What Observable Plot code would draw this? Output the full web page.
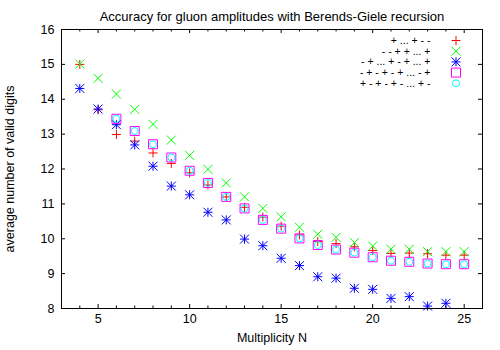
<!DOCTYPE html>
<html>
<head>
<meta charset="utf-8">
<script src="https://cdn.jsdelivr.net/npm/d3@7"></script>
<script src="https://cdn.jsdelivr.net/npm/@observablehq/plot@0.6"></script>
<style>
  html, body { margin: 0; padding: 0; background: #fff; }
  svg { display: block; }
</style>
</head>
<body>
<div id="chart"></div>
<script>
// ---- data ----
const title = "Accuracy for gluon amplitudes with Berends-Giele recursion";
const xLabel = "Multiplicity N";
const yLabel = "average number of valid digits";

const seriesLabels = [
  "+ ... + - -",
  "- - + + ... +",
  "- + ... + - + ... +",
  "- + - + - + ... - +",
  "+ - + - + - ... + -"
];
const seriesColors = ["#ff0000", "#00ff00", "#0000ff", "#ff00ff", "#00ffff"];

const nAll = [4,5,6,7,8,9,10,11,12,13,14,15,16,17,18,19,20,21,22,23,24,25];
const redVals   = [15.0,13.7,12.99,12.8,12.46,12.16,11.89,11.54,11.2,10.9,10.62,10.36,10.11,9.92,9.86,9.77,9.66,9.58,9.59,9.57,9.53,9.53];
const greenVals = [15.01,14.6,14.15,13.71,13.28,12.83,12.39,11.99,11.6,11.2,10.87,10.63,10.33,10.13,10.04,9.89,9.79,9.7,9.7,9.63,9.63,9.63];
const nBlue = [4,5,6,7,8,9,10,11,12,13,14,15,16,17,18,19,20,21,22,23,24];
const blueVals  = [14.31,13.72,13.27,12.69,12.08,11.51,11.26,10.76,10.54,9.99,9.8,9.44,9.23,8.91,8.87,8.58,8.55,8.29,8.34,8.07,8.15];
const nAlt = [6,7,8,9,10,11,12,13,14,15,16,17,18,19,20,21,22,23,24,25];
const magentaVals = [13.44,13.09,12.71,12.33,11.95,11.6,11.2,10.87,10.54,10.29,10.01,9.82,9.69,9.6,9.47,9.37,9.34,9.29,9.27,9.27];
const cyanVals    = [13.44,13.09,12.71,12.33,11.95,11.6,11.2,10.87,10.54,10.29,10.01,9.82,9.69,9.6,9.47,9.37,9.34,9.29,9.27,9.27];

const xMajorTicks = [5,10,15,20,25];
const xMinorTicks = [4,6,7,8,9,11,12,13,14,16,17,18,19,21,22,23,24,26];
const yTicks = [8,9,10,11,12,13,14,15,16];

// ---- gnuplot-like point symbols ----
const half = (size) => Math.sqrt(size / Math.PI);
const symPlus = { draw(c, s) { const r = half(s); c.moveTo(-r,0); c.lineTo(r,0); c.moveTo(0,-r); c.lineTo(0,r); } };
const symTimes = { draw(c, s) { const r = half(s); c.moveTo(-r,-r); c.lineTo(r,r); c.moveTo(-r,r); c.lineTo(r,-r); } };
const symStar = { draw(c, s) { const r = half(s); c.moveTo(-r,0); c.lineTo(r,0); c.moveTo(0,-r); c.lineTo(0,r); c.moveTo(-r,-r); c.lineTo(r,r); c.moveTo(-r,r); c.lineTo(r,-r); } };
const symSquare = { draw(c, s) { const r = half(s); c.moveTo(-r,-r); c.lineTo(r,-r); c.lineTo(r,r); c.lineTo(-r,r); c.closePath(); } };
const symCircle = { draw(c, s) { const r = half(s); c.moveTo(r,0); c.arc(0,0,r,0,2*Math.PI); c.closePath(); } };
const symbols = [symPlus, symTimes, symStar, symSquare, symCircle];
const symR = [4.5, 4.5, 4.5, 4.5, 3.5];

const series = [
  {xs: nAll, ys: redVals},
  {xs: nAll, ys: greenVals},
  {xs: nBlue, ys: blueVals},
  {xs: nAlt, ys: magentaVals},
  {xs: nAlt, ys: cyanVals}
].map((s, i) => s.xs.map((n, j) => ({n, v: s.ys[j], k: i})));

const W = 500, H = 350;
const mL = 61, mR = 18, mT = 29, mB = 42;
const fw = W - mL - mR, fh = H - mT - mB;
const font = "Liberation Sans, Arial, Helvetica, sans-serif";
const majorLen = 4, minorLen = 2.5;
const rowGap = 10.7;

const marks = [];
// inward ticks on all four sides
marks.push(Plot.tickX(xMajorTicks, {x: d => d, insetTop: fh - majorLen, stroke: "#000"}));
marks.push(Plot.tickX(xMajorTicks, {x: d => d, insetBottom: fh - majorLen, stroke: "#000"}));
marks.push(Plot.tickX(xMinorTicks, {x: d => d, insetTop: fh - minorLen, stroke: "#000"}));
marks.push(Plot.tickX(xMinorTicks, {x: d => d, insetBottom: fh - minorLen, stroke: "#000"}));
marks.push(Plot.tickY(yTicks, {y: d => d, insetRight: fw - majorLen, stroke: "#000"}));
marks.push(Plot.tickY(yTicks, {y: d => d, insetLeft: fw - majorLen, stroke: "#000"}));
// tick labels and axis titles
marks.push(Plot.axisX(xMajorTicks, {anchor: "bottom", tickSize: 0, tickPadding: 6, fontSize: 12.5, label: xLabel, labelAnchor: "center", labelOffset: 33, labelArrow: "none"}));
marks.push(Plot.axisY(yTicks, {anchor: "left", tickSize: 0, tickPadding: 7, fontSize: 12.5, label: yLabel, labelAnchor: "center", labelOffset: 56, labelArrow: "none"}));
// data points
series.forEach((pts, i) => {
  marks.push(Plot.dot(pts, {x: "n", y: "v", symbol: () => symbols[i], r: symR[i], stroke: seriesColors[i], fill: "none", strokeWidth: 1}));
});
// legend
seriesLabels.forEach((lab, i) => {
  marks.push(Plot.text([lab], {text: d => d, frameAnchor: "top-right", lineAnchor: "middle", dx: -52, dy: 11 + i * rowGap, textAnchor: "end", fontSize: 10.5, fill: "#000", ariaLabel: "legend-text"}));
  marks.push(Plot.dot([lab], {frameAnchor: "top-right", dx: -26.5, dy: 11 + i * rowGap, symbol: () => symbols[i], r: symR[i], stroke: seriesColors[i], fill: "none", strokeWidth: 1}));
});
// title
marks.push(Plot.text([title], {text: d => d, frameAnchor: "top", lineAnchor: "middle", dy: -13, fontSize: 13, fill: "#000"}));
marks.push(Plot.frame({stroke: "#000", strokeWidth: 1}));

const chart = Plot.plot({
  width: W, height: H,
  marginLeft: mL, marginRight: mR, marginTop: mT, marginBottom: mB,
  style: {fontFamily: font, fontSize: "12px", color: "#000", background: "#fff"},
  x: {domain: [3, 26], axis: null},
  y: {domain: [8, 16], axis: null},
  symbol: {type: "identity"},
  marks
});
d3.select(chart).selectAll('g[aria-label="legend-text"] text').attr("letter-spacing", "0.6px");
document.getElementById("chart").appendChild(chart);
</script>
</body>
</html>
